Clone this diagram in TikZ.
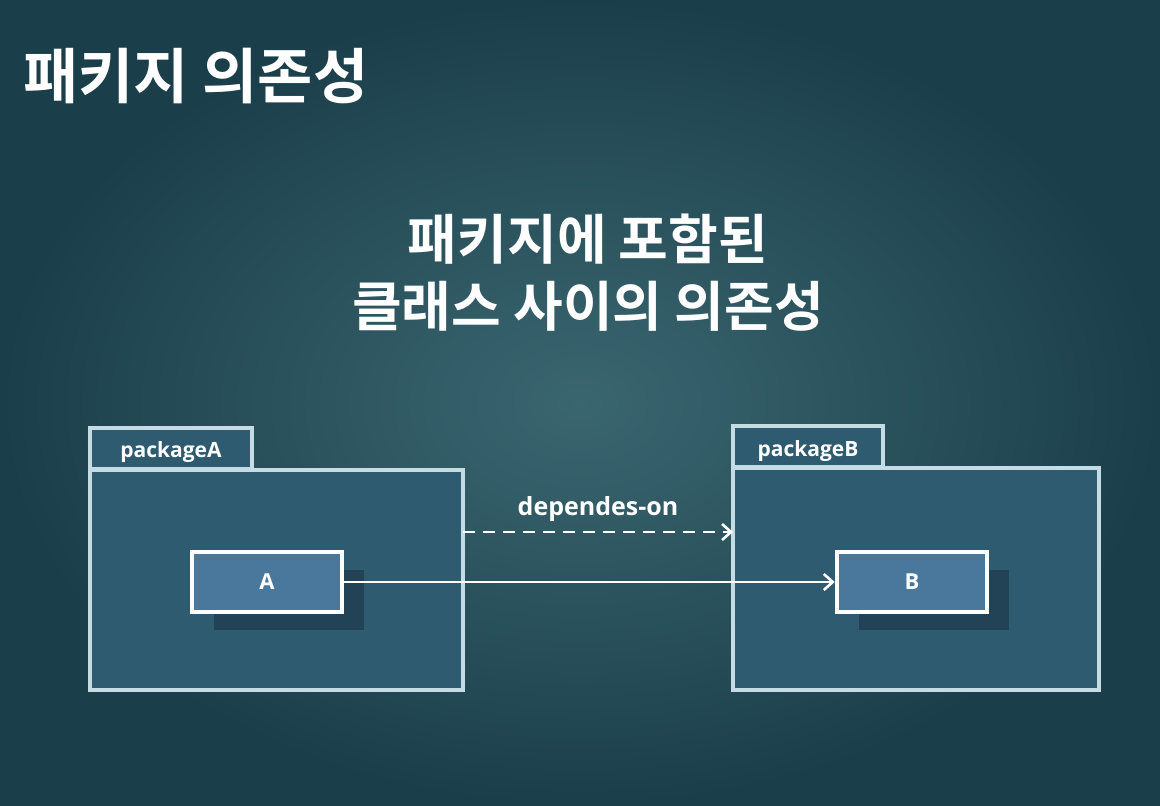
\documentclass[tikz,border=0pt]{standalone}
\usepackage{fontspec}
\newfontfamily\kr{Noto Sans CJK KR}[BoldFont={* Bold}]
\newfontfamily\lat{Open Sans}
\usetikzlibrary{arrows.meta}
\definecolor{bgmid}{HTML}{3A6670}
\definecolor{bgout}{HTML}{1B3F4A}
\definecolor{pkgfill}{HTML}{2E5B70}
\definecolor{pkgline}{HTML}{C5DCE4}
\definecolor{clsfill}{HTML}{4A779C}
\definecolor{shadowc}{HTML}{1E3A4C}
\tikzset{
  x=1pt,y=-1pt,
  pkgbox/.style={draw=pkgline, line width=3.2pt, fill=pkgfill},
  clsbox/.style={draw=white, line width=4.5pt, fill=clsfill, minimum width=150pt, minimum height=60pt, inner sep=0pt, font=\lat\bfseries\fontsize{22}{26}\selectfont, text=white},
  shadowbox/.style={fill=shadowc, opacity=0.7, minimum width=150pt, minimum height=60pt, inner sep=0pt},
  tablabel/.style={font=\lat\bfseries\fontsize{21}{24}\selectfont, text=white},
  conn/.style={draw=white, line width=2.8pt, -{Straight Barb[length=9pt,width=16pt,line width=2.6pt]}},
}
\begin{document}
\begin{tikzpicture}
\useasboundingbox (0,0) rectangle (1160,806);
\shade[inner color=bgmid, outer color=bgout] (0,0) rectangle (1160,806);
% title
\node[anchor=west, font=\kr\bfseries\fontsize{60}{66}\selectfont, text=white] (title) at (20,76) {패키지 의존성};
\node[font=\kr\bfseries\fontsize{54}{67}\selectfont, text=white, align=center, inner sep=0pt] (sub) at (588,273) {패키지에 포함된\\[-0pt]클래스 사이의 의존성};
% package A
\draw[pkgbox] (90,428) rectangle (252,469);
\node[tablabel] (tabA) at (171,452) {packageA};
\draw[pkgbox] (90,470) rectangle (463,690);
\coordinate (pkgAr) at (463,532);
% package B
\draw[pkgbox] (733,426) rectangle (883,467);
\node[tablabel] (tabB) at (808,451) {packageB};
\draw[pkgbox] (733,468) rectangle (1099,690);
\coordinate (pkgBl) at (733,532);
% shadows
\node[shadowbox] (shA) at (289,600) {};
\node[shadowbox] (shB) at (934,600) {};
% classes
\node[clsbox] (A) at (267,582) {A};
\node[clsbox] (B) at (912,582) {B};
% connectors
\draw[conn, dash pattern=on 12pt off 8pt] (pkgAr) -- node[above=6pt, font=\lat\bfseries\fontsize{25}{28}\selectfont, text=white] (lbl) {dependes-on} (pkgBl);
\draw[conn] (A) -- (B);
\end{tikzpicture}
\end{document}
